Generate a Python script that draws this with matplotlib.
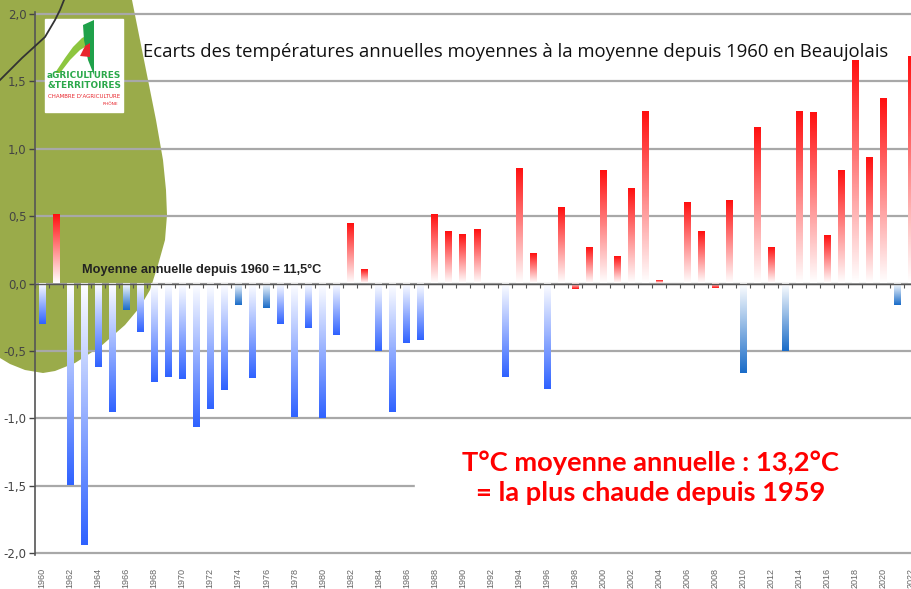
import matplotlib.pyplot as plt
import numpy as np
from matplotlib.colors import LinearSegmentedColormap
from matplotlib.patches import Rectangle, Polygon

# données : écarts à la moyenne 1960 (11,5 °C)
years = np.arange(1960, 2023)
ecarts = [-0.30, 0.51, -1.49, -1.94, -0.62, -0.95, -0.20, -0.36, -0.73, -0.69,
          -0.71, -1.06, -0.93, -0.79, -0.16, -0.70, -0.18, -0.30, -0.99, -0.33,
          -1.00, -0.38, 0.44, 0.10, -0.50, -0.95, -0.44, -0.42, 0.51, 0.38,
          0.36, 0.40, 0.00, -0.69, 0.85, 0.22, -0.78, 0.56, -0.04, 0.26,
          0.83, 0.20, 0.70, 1.27, 0.02, 0.00, 0.60, 0.38, -0.03, 0.61,
          -0.66, 1.15, 0.26, -0.50, 1.27, 1.26, 0.35, 0.83, 1.65, 0.93,
          1.37, -0.16, 1.68]
yticks = [-2.0, -1.5, -1.0, -0.5, 0.0, 0.5, 1.0, 1.5, 2.0]
title = "Ecarts des températures annuelles moyennes à la moyenne depuis 1960 en Beaujolais"
note = "Moyenne annuelle depuis 1960 = 11,5°C"
message = "T°C moyenne annuelle : 13,2°C\n= la plus chaude depuis 1959"

# couleurs
RED = "#ff1010"
BLUE = "#2f62ff"
STEEL = "#1a6cc8"
GREEN = "#9aab4a"
steel_years = [1966, 1974, 1976, 2010, 2013, 2021]
red_neg_years = [1998, 2008]

fig = plt.figure(figsize=(9.12, 5.89), dpi=100)

# fond (forme verte), en pixels
bg = fig.add_axes([0, 0, 1, 1], zorder=0)
bg.set_xlim(0, 912)
bg.set_ylim(589, 0)
bg.axis("off")
blob = [(0, 0), (132, 0), (140, 40), (148, 80), (156, 120), (163, 160),
        (166, 190), (167, 215), (165, 240), (158, 265), (150, 290),
        (140, 307), (125, 325), (100, 347), (75, 363), (55, 371), (43, 373),
        (25, 370), (10, 364), (0, 358)]
bg.add_patch(Polygon(blob, color=GREEN, lw=0))

ax = fig.add_axes([35 / 912, 34 / 589, 1 - 35 / 912, 543 / 589], zorder=1)
ax.patch.set_alpha(0)

width = 0.45
for y, v in zip(years, ecarts):
    if v == 0:
        continue
    if y in steel_years:
        c = STEEL
    elif v > 0 or y in red_neg_years:
        c = RED
    else:
        c = BLUE
    cmap = LinearSegmentedColormap.from_list("g", ["white", c])
    grad = np.linspace(0, 1, 128).reshape(-1, 1)
    ax.imshow(grad, cmap=cmap, origin="lower", aspect="auto",
              extent=[y - width / 2, y + width / 2, 0, v], zorder=3)

# ligne du zéro avec petites graduations
ax.axhline(0, color="#555555", lw=1.0, zorder=4)
bounds = np.arange(years[0] - 0.5, years[-1] + 1, 1)
ax.plot(bounds, np.zeros_like(bounds), ls="", marker=3, ms=3, mew=0.8,
        color="#555555", zorder=4)

ax.set_xlim(1959.5, 2022.05)
ax.set_ylim(-2.012, 2.012)
ax.set_yticks(yticks)
ax.set_yticklabels([f"{t:.1f}".replace(".", ",") for t in yticks])
ax.set_xticks(years[::2])
ax.set_xticklabels([str(y) for y in years[::2]], rotation=90,
                   family="Liberation Sans")
ax.tick_params(axis="x", length=0, labelsize=6.5, colors="#666666", pad=9)
ax.tick_params(axis="y", length=4, width=1, labelsize=8.5, colors="#444444",
               direction="out", pad=2)
ax.grid(axis="y", color="#a8a8a8", lw=1.6, zorder=1)
for s in ["top", "right", "bottom"]:
    ax.spines[s].set_visible(False)
ax.spines["left"].set_color("#555555")
ax.spines["left"].set_linewidth(1.2)

ax.text(1962.85, 0.10, note, fontsize=9.2, fontweight="bold",
        family="Liberation Sans", color="#222222", va="center", zorder=5)

# encadré message
ax.add_patch(Rectangle((1986.6, -1.86), 40, 0.75, color="white", zorder=6))
ax.text(2003.4, -1.44, message, fontsize=19.6, fontweight="bold",
        family="Lato", color="#ff0000", ha="center", va="center",
        linespacing=1.3, zorder=7)

fig.text(143 / 912, 1 - 52 / 589, title, fontsize=13.3, family="Open Sans",
         color="#111111", va="center")

# logo et trait courbe
ov = fig.add_axes([0, 0, 1, 1], zorder=3)
ov.set_xlim(0, 912)
ov.set_ylim(589, 0)
ov.axis("off")
ov.patch.set_alpha(0)
ov.plot([0, 22, 45, 55, 60, 64], [80, 58, 37, 20, 10, 0],
        color="#333333", lw=1.3)
ov.add_patch(Rectangle((45, 19), 78, 93, color="white"))
ov.add_patch(Polygon([(55, 73), (65, 58), (73, 47), (82, 38), (88, 35),
                      (90, 44), (80, 50), (70, 60), (60, 73)],
                     color="#8dc63f", lw=0))
ov.add_patch(Polygon([(83, 25), (94, 20), (94, 75), (88, 60), (84, 40)],
                     color="#1fa14a", lw=0))
ov.add_patch(Polygon([(80, 56), (85, 46), (90, 43), (90, 57)],
                     color="#e8262d", lw=0))
ov.text(84, 76, "aGRICULTURES", fontsize=6.4, fontweight="bold",
        color="#2aa84a", ha="center", va="center", family="DejaVu Sans")
ov.text(84, 86, "&TERRITOIRES", fontsize=6.4, fontweight="bold",
        color="#2aa84a", ha="center", va="center", family="DejaVu Sans")
ov.text(84, 96, "CHAMBRE D'AGRICULTURE", fontsize=4.0, color="#e8262d",
        ha="center", va="center")
ov.text(110, 104, "RHÔNE", fontsize=3.2, color="#e8262d", ha="center",
        va="center")

fig.savefig("out.png", dpi=100)
